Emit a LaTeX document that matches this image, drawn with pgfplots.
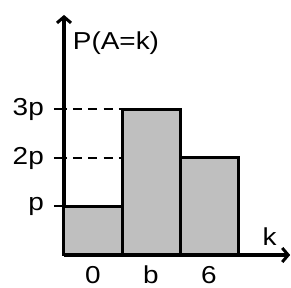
\documentclass[border=0pt]{standalone}
\usepackage{pgfplots}
\pgfplotsset{compat=1.18}
\usetikzlibrary{arrows.meta}
\usepackage{fontspec}
\setmainfont{Liberation Sans}[FakeStretch=1.14]
\newcommand{\bigf}{\fontsize{24.5}{27}\selectfont}
\begin{document}
\begin{tikzpicture}[font=\bigf]
\useasboundingbox (-64pt,-33pt) rectangle (227pt,255pt);
\clip (-64pt,-33pt) rectangle (227pt,255pt);
\begin{axis}[
  at={(0pt,0pt)}, anchor=origin,
  x=58pt, y=48.5pt,
  xmin=0, xmax=3.9, ymin=0, ymax=4.95,
  axis lines=middle,
  axis line style={line width=3.8pt, -{Straight Barb[length=6pt,width=14pt,line width=3pt]}},
  xtick={0.5,1.5,2.5}, xticklabels={0,b,6},
  ytick={1,2,3}, yticklabels={p,2p,3p},
  xtick style={draw=none},
  ytick style={line width=2pt, black},
  major tick length=10pt,
  tick align=outside,
  tick label style={font=\bigf},
  xticklabel style={anchor=base, inner sep=0pt, yshift=-19pt},
  yticklabel style={inner sep=0pt, xshift=-10pt},
  /pgf/number format/assume math mode=true,
  clip=false,
]
\addplot[line width=2pt, dash pattern=on 9pt off 6.3pt, dash phase=-9pt] coordinates {(0,3) (1,3)};
\addplot[line width=2pt, dash pattern=on 9pt off 6.3pt, dash phase=-9pt] coordinates {(0,2) (1,2)};
\addplot[ybar interval, fill=black!25, draw=black, line width=3pt] coordinates {(0,1) (1,3) (2,2) (3,2)};
\node[anchor=base west, inner sep=0pt, font=\bigf] at (axis cs:0.15,4.24) {P(A=k)};
\node[anchor=base west, inner sep=0pt, font=\bigf] at (axis cs:3.42,0.2) {k};
\end{axis}
\end{tikzpicture}
\end{document}
